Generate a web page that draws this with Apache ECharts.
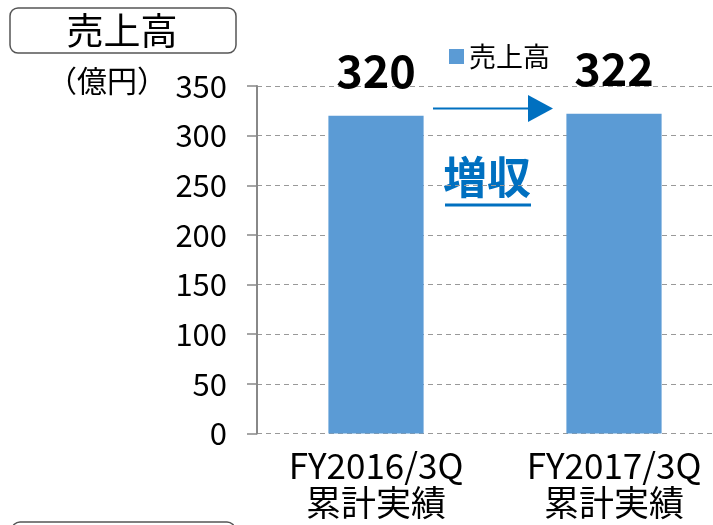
<!DOCTYPE html>
<html><head><meta charset="utf-8">
<script src="https://cdn.jsdelivr.net/npm/echarts@6/dist/echarts.min.js"></script>
<style>html,body{margin:0;padding:0;background:#fff}#c{width:713px;height:525px}</style>
</head><body><div id="c"></div>
<script>
const categories = ['FY2016/3Q\n累計実績', 'FY2017/3Q\n累計実績'];
const salesValues = [320, 322];
const seriesName = '売上高';
const yTicks = [0, 50, 100, 150, 200, 250, 300, 350];
const FONT = '"Noto Sans CJK JP", "Noto Sans", sans-serif';
const BLUE = '#0070C0';

const chart = echarts.init(document.getElementById('c'), null, {renderer: 'canvas'});
chart.setOption({
  animation: false,
  textStyle: {fontFamily: FONT},
  grid: {left: 257, top: 86, bottom: 91.5, right: -20, containLabel: false, outerBoundsMode: 'none'},
  legend: {
    data: [seriesName], left: 444, top: 38, icon: 'rect', itemWidth: 15, itemHeight: 15, itemGap: 6,
    textStyle: {fontSize: 27, color: '#000', fontFamily: FONT}
  },
  xAxis: {
    type: 'category', data: categories,
    axisLine: {show: false}, axisTick: {show: false},
    axisLabel: {fontSize: 35, color: '#000', lineHeight: 37, margin: 14, fontFamily: FONT}
  },
  yAxis: {
    type: 'value', min: yTicks[0], max: yTicks[yTicks.length - 1], interval: 50,
    axisLine: {show: true, lineStyle: {color: '#888', width: 2}},
    axisTick: {show: true, length: 10, lineStyle: {color: '#888', width: 1.5}},
    axisLabel: {fontSize: 31, color: '#000', margin: 30, fontFamily: FONT},
    splitLine: {show: true, lineStyle: {color: '#999', type: [5, 4], width: 1}}
  },
  series: [{
    name: seriesName, type: 'bar', data: salesValues, barWidth: '40%',
    itemStyle: {color: '#5B9BD5'},
    label: {show: true, position: 'top', distance: 22, fontSize: 45, fontWeight: 'bold', color: '#000', fontFamily: FONT}
  }],
  graphic: [
    {type: 'rect', shape: {x: 10, y: 8, width: 226, height: 45, r: 8}, style: {fill: '#fff', stroke: '#555', lineWidth: 1.5}},
    {type: 'text', x: 122, y: 31, style: {text: '売上高', font: '37px ' + FONT, fill: '#000', align: 'center', verticalAlign: 'middle'}},
    {type: 'text', x: 107, y: 81, style: {text: '（億円）', font: '30px ' + FONT, fill: '#000', align: 'center', verticalAlign: 'middle'}},
    {type: 'line', shape: {x1: 433, y1: 108.5, x2: 530, y2: 108.5}, style: {stroke: BLUE, lineWidth: 2}},
    {type: 'polygon', shape: {points: [[528, 95], [553, 108.5], [528, 122]]}, style: {fill: BLUE}},
    {type: 'text', x: 487, y: 177, style: {text: '増収', font: 'bold 44px ' + FONT, fill: BLUE, align: 'center', verticalAlign: 'middle'}},
    {type: 'rect', shape: {x: 445, y: 203.5, width: 86, height: 3}, style: {fill: BLUE}},
    {type: 'rect', shape: {x: 12, y: 522, width: 223, height: 45, r: 8}, style: {fill: '#fff', stroke: '#555', lineWidth: 1.5}}
  ]
});
</script></body></html>
